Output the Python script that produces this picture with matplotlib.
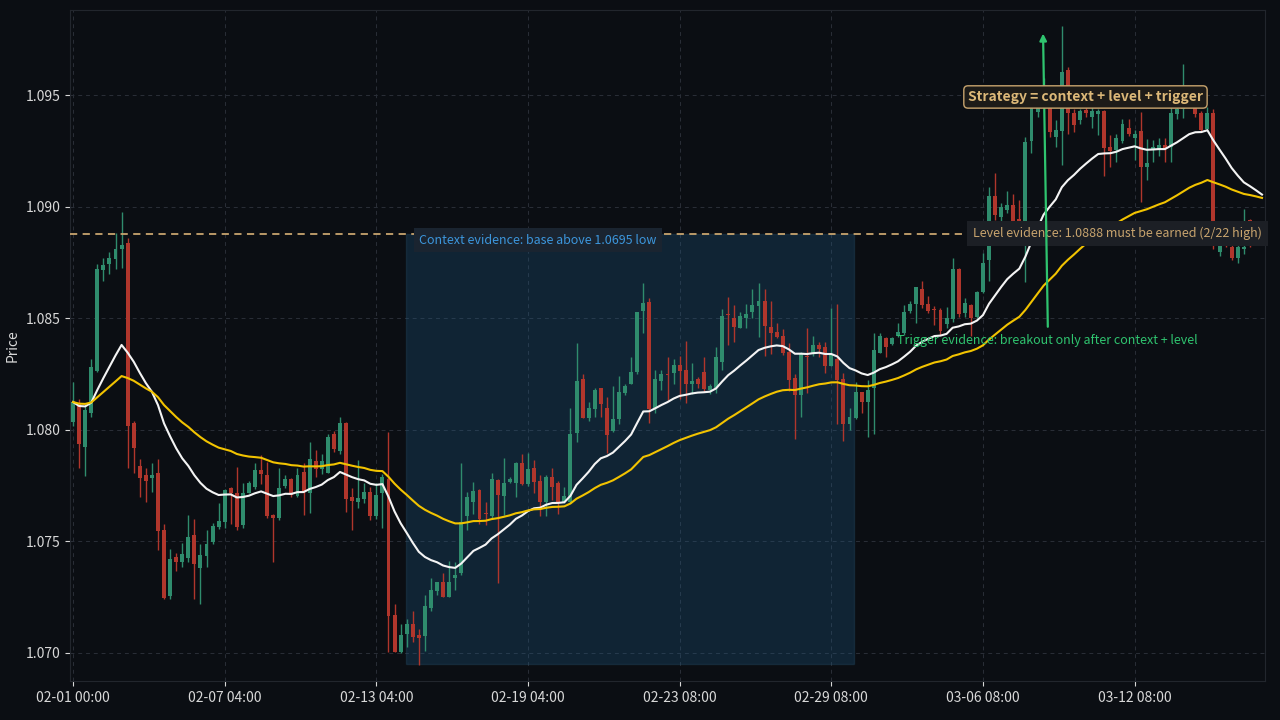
import numpy as np
import pandas as pd
import matplotlib
matplotlib.use("Agg")
import matplotlib.pyplot as plt
from matplotlib.patches import Rectangle

plt.rcParams['font.family'] = ['Noto Sans CJK SC', 'DejaVu Sans']

# OHLC (4h candles)
opens = [
    1.08036, 1.08116, 1.07924, 1.08077, 1.08265, 1.08717, 1.08745, 1.08766, 1.08811, 1.08838,
    1.08031, 1.07838, 1.07797, 1.07785, 1.07805, 1.07551, 1.07256, 1.07428, 1.07409, 1.07427,
    1.07528, 1.07382, 1.07436, 1.07498, 1.07566, 1.07588, 1.07738, 1.07715, 1.07573, 1.07718,
    1.07745, 1.07820, 1.07797, 1.07618, 1.07606, 1.07750, 1.07778, 1.07705, 1.07811, 1.07718,
    1.07860, 1.07824, 1.07808, 1.07983, 1.07906, 1.08029, 1.07697, 1.07678, 1.07691, 1.07720,
    1.07615, 1.07718, 1.07779, 1.07169, 1.07005, 1.07084, 1.07129, 1.07080, 1.07077, 1.07200,
    1.07279, 1.07316, 1.07252, 1.07337, 1.07356, 1.07613, 1.07678, 1.07730, 1.07628, 1.07613,
    1.07775, 1.07705, 1.07767, 1.07763, 1.07850, 1.07757, 1.07827, 1.07772, 1.07678, 1.07790,
    1.07763, 1.07678, 1.07678, 1.07987, 1.08228, 1.08054, 1.08093, 1.08186, 1.08096, 1.07996,
    1.08049, 1.08167, 1.08208, 1.08261, 1.08534, 1.08575, 1.08096, 1.08220, 1.08252, 1.08253,
    1.08291, 1.08268, 1.08205, 1.08228, 1.08258, 1.08178, 1.08186, 1.08305, 1.08519, 1.08500,
    1.08458, 1.08500, 1.08527, 1.08557, 1.08578, 1.08462, 1.08440, 1.08421, 1.08350, 1.08231,
    1.08156, 1.08331, 1.08340, 1.08380, 1.08370, 1.08286, 1.08316, 1.08226, 1.08026, 1.08054,
    1.08168, 1.08126, 1.08186, 1.08346, 1.08410, 1.08385, 1.08421, 1.08436, 1.08534, 1.08563,
    1.08630, 1.08564, 1.08539, 1.08537, 1.08474, 1.08497, 1.08721, 1.08522, 1.08560, 1.08507,
    1.08619, 1.08761, 1.09048, 1.08956, 1.08986, 1.09008, 1.08944, 1.08936, 1.09297, 1.09426,
    1.09500, 1.09479, 1.09312, 1.09341, 1.09616, 1.09419, 1.09389, 1.09434, 1.09404, 1.09416,
    1.09431, 1.09270, 1.09255, 1.09297, 1.09356, 1.09311, 1.09341, 1.09177, 1.09258, 1.09255,
    1.09277, 1.09270, 1.09416, 1.09437, 1.09480, 1.09479, 1.09421, 1.09349, 1.09421, 1.08800,
    1.08870, 1.08819, 1.08769, 1.08809, 1.08940, 1.08860, 1.08900,
]
highs = [
    1.08216, 1.08137, 1.08111, 1.08316, 1.08746, 1.08769, 1.08797, 1.08881, 1.08978, 1.08859,
    1.08040, 1.07868, 1.07827, 1.07850, 1.07868, 1.07578, 1.07468, 1.07446, 1.07491, 1.07618,
    1.07599, 1.07488, 1.07551, 1.07581, 1.07673, 1.07733, 1.07742, 1.07835, 1.07761, 1.07771,
    1.07850, 1.07887, 1.07857, 1.07621, 1.07827, 1.07797, 1.07784, 1.07827, 1.07850, 1.07947,
    1.07909, 1.07890, 1.07981, 1.07996, 1.08056, 1.08036, 1.07738, 1.07865, 1.07763, 1.07742,
    1.07760, 1.07802, 1.07992, 1.07219, 1.07129, 1.07152, 1.07187, 1.07108, 1.07259, 1.07338,
    1.07319, 1.07356, 1.07413, 1.07408, 1.07850, 1.07723, 1.07767, 1.07737, 1.07678, 1.07805,
    1.07778, 1.07872, 1.07790, 1.07857, 1.07891, 1.07897, 1.07867, 1.07797, 1.07797, 1.07827,
    1.07772, 1.07745, 1.08096, 1.08388, 1.08249, 1.08126, 1.08190, 1.08190, 1.08149, 1.08196,
    1.08243, 1.08205, 1.08328, 1.08530, 1.08660, 1.08590, 1.08268, 1.08268, 1.08328, 1.08316,
    1.08331, 1.08398, 1.08298, 1.08238, 1.08325, 1.08208, 1.08370, 1.08540, 1.08597, 1.08560,
    1.08527, 1.08564, 1.08630, 1.08657, 1.08630, 1.08578, 1.08480, 1.08451, 1.08388, 1.08250,
    1.08351, 1.08455, 1.08420, 1.08395, 1.08395, 1.08545, 1.08564, 1.08253, 1.08096, 1.08216,
    1.08171, 1.08223, 1.08436, 1.08433, 1.08418, 1.08418, 1.08480, 1.08560, 1.08576, 1.08639,
    1.08669, 1.08600, 1.08554, 1.08545, 1.08552, 1.08769, 1.08724, 1.08590, 1.08563, 1.08623,
    1.08794, 1.09090, 1.09150, 1.09018, 1.09072, 1.09060, 1.09030, 1.09314, 1.09482, 1.09520,
    1.09580, 1.09486, 1.09389, 1.09810, 1.09628, 1.09437, 1.09441, 1.09471, 1.09452, 1.09441,
    1.09434, 1.09322, 1.09329, 1.09392, 1.09396, 1.09344, 1.09427, 1.09303, 1.09300, 1.09307,
    1.09307, 1.09479, 1.09449, 1.09640, 1.09530, 1.09486, 1.09430, 1.09446, 1.09441, 1.08890,
    1.08900, 1.08840, 1.08840, 1.08990, 1.08945, 1.08920, 1.08930,
]
lows = [
    1.08017, 1.07827, 1.07794, 1.08056, 1.08260, 1.08667, 1.08699, 1.08720, 1.08727, 1.07827,
    1.07805, 1.07697, 1.07678, 1.07720, 1.07461, 1.07240, 1.07240, 1.07368, 1.07386, 1.07409,
    1.07240, 1.07217, 1.07386, 1.07487, 1.07555, 1.07558, 1.07578, 1.07551, 1.07558, 1.07715,
    1.07735, 1.07757, 1.07603, 1.07409, 1.07598, 1.07738, 1.07700, 1.07700, 1.07618, 1.07628,
    1.07787, 1.07802, 1.07805, 1.07902, 1.07891, 1.07633, 1.07551, 1.07648, 1.07670, 1.07598,
    1.07600, 1.07558, 1.07005, 1.07005, 1.07000, 1.07028, 1.07050, 1.06945, 1.07010, 1.07189,
    1.07259, 1.07249, 1.07249, 1.07281, 1.07350, 1.07551, 1.07625, 1.07580, 1.07573, 1.07607,
    1.07314, 1.07618, 1.07762, 1.07700, 1.07753, 1.07748, 1.07718, 1.07613, 1.07615, 1.07685,
    1.07625, 1.07674, 1.07674, 1.07947, 1.08054, 1.08039, 1.08059, 1.08059, 1.07897, 1.07992,
    1.08026, 1.08156, 1.08205, 1.08250, 1.08434, 1.08029, 1.08077, 1.08178, 1.08134, 1.08208,
    1.08137, 1.08119, 1.08163, 1.08186, 1.08171, 1.08163, 1.08166, 1.08268, 1.08380, 1.08395,
    1.08455, 1.08455, 1.08500, 1.08418, 1.08331, 1.08340, 1.08411, 1.08336, 1.08176, 1.07957,
    1.08056, 1.08164, 1.08331, 1.08325, 1.08256, 1.08286, 1.08026, 1.07951, 1.07999, 1.08051,
    1.08077, 1.07969, 1.07981, 1.08343, 1.08328, 1.08380, 1.08418, 1.08424, 1.08522, 1.08480,
    1.08545, 1.08522, 1.08469, 1.08424, 1.08455, 1.08485, 1.08507, 1.08507, 1.08420, 1.08500,
    1.08612, 1.08669, 1.08940, 1.08933, 1.08971, 1.08933, 1.08926, 1.08664, 1.09243, 1.09404,
    1.09450, 1.09312, 1.09270, 1.09188, 1.09329, 1.09337, 1.09374, 1.09404, 1.09356, 1.09322,
    1.09138, 1.09180, 1.09202, 1.09285, 1.09317, 1.09210, 1.09023, 1.09120, 1.09202, 1.09228,
    1.09202, 1.09202, 1.09396, 1.09397, 1.09450, 1.09404, 1.09341, 1.09344, 1.08810, 1.08780,
    1.08820, 1.08760, 1.08748, 1.08790, 1.08820, 1.08840, 1.08850,
]
closes = [
    1.08125, 1.07937, 1.08089, 1.08280, 1.08721, 1.08739, 1.08770, 1.08811, 1.08829, 1.08017,
    1.07920, 1.07785, 1.07772, 1.07797, 1.07548, 1.07247, 1.07421, 1.07409, 1.07443, 1.07518,
    1.07397, 1.07437, 1.07488, 1.07569, 1.07591, 1.07730, 1.07718, 1.07566, 1.07718, 1.07761,
    1.07820, 1.07802, 1.07613, 1.07606, 1.07738, 1.07779, 1.07708, 1.07797, 1.07723, 1.07868,
    1.07824, 1.07860, 1.07969, 1.07914, 1.08029, 1.07688, 1.07679, 1.07694, 1.07720, 1.07615,
    1.07708, 1.07787, 1.07166, 1.07005, 1.07080, 1.07129, 1.07072, 1.07068, 1.07210, 1.07282,
    1.07316, 1.07252, 1.07316, 1.07349, 1.07587, 1.07697, 1.07727, 1.07599, 1.07624, 1.07778,
    1.07706, 1.07760, 1.07780, 1.07850, 1.07757, 1.07824, 1.07767, 1.07678, 1.07790, 1.07745,
    1.07678, 1.07703, 1.07981, 1.08219, 1.08054, 1.08096, 1.08178, 1.08116, 1.07977, 1.08047,
    1.08168, 1.08199, 1.08258, 1.08527, 1.08567, 1.08092, 1.08228, 1.08249, 1.08248, 1.08291,
    1.08265, 1.08205, 1.08220, 1.08205, 1.08183, 1.08196, 1.08325, 1.08510, 1.08516, 1.08462,
    1.08510, 1.08519, 1.08560, 1.08578, 1.08465, 1.08436, 1.08418, 1.08346, 1.08223, 1.08156,
    1.08343, 1.08327, 1.08380, 1.08365, 1.08286, 1.08340, 1.08223, 1.08026, 1.08056, 1.08168,
    1.08126, 1.08178, 1.08358, 1.08421, 1.08370, 1.08410, 1.08437, 1.08527, 1.08563, 1.08639,
    1.08560, 1.08534, 1.08536, 1.08443, 1.08503, 1.08721, 1.08519, 1.08567, 1.08503, 1.08619,
    1.08749, 1.09048, 1.08963, 1.08998, 1.09008, 1.08936, 1.08936, 1.09292, 1.09471, 1.09500,
    1.09530, 1.09337, 1.09347, 1.09606, 1.09419, 1.09367, 1.09431, 1.09419, 1.09431, 1.09431,
    1.09265, 1.09249, 1.09311, 1.09371, 1.09326, 1.09329, 1.09177, 1.09195, 1.09270, 1.09277,
    1.09258, 1.09419, 1.09437, 1.09479, 1.09500, 1.09416, 1.09344, 1.09421, 1.08860, 1.08870,
    1.08840, 1.08769, 1.08820, 1.08821, 1.08930, 1.08900, 1.08870,
]

tick_pos = [0, 25, 50, 75, 100, 125, 150, 175]
tick_labels = ['02-01 00:00', '02-07 04:00', '02-13 04:00', '02-19 04:00',
               '02-23 08:00', '02-29 08:00', '03-06 08:00', '03-12 08:00']

level = 1.0888
base_low = 1.0695
context_start, context_end = 54.9, 128.7

# colours
bg = '#0b0e13'
up_col = '#2f8c6d'
down_col = '#b0362c'
gold = '#c8a46e'

df = pd.DataFrame({'open': opens, 'high': highs, 'low': lows, 'close': closes})
n = len(df)
x = np.arange(n)
ema_fast = df['close'].ewm(span=20, adjust=False).mean()
ema_slow = df['close'].ewm(span=50, adjust=False).mean()

fig = plt.figure(figsize=(12.8, 7.2), dpi=100, facecolor=bg)
ax = fig.add_axes([0.0547, 0.0542, 0.9336, 0.9319])
ax.set_facecolor(bg)

# context zone
ax.add_patch(Rectangle((context_start, base_low), context_end - context_start, level - base_low,
                       facecolor='#1f5f8b', alpha=0.28, edgecolor='#2a5878', lw=1, zorder=1))

# candles
up = df['close'] >= df['open']
colors = np.where(up, up_col, down_col)
body_low = np.minimum(df['open'], df['close'])
body_h = np.maximum((df['close'] - df['open']).abs(), 0.00004)
ax.vlines(x, df['low'], df['high'], colors=colors, lw=1, zorder=2)
ax.bar(x, body_h, bottom=body_low, width=0.65, color=colors, zorder=3)

# moving averages
ax.plot(x, ema_fast, color='#f4f4f4', lw=1.5, zorder=4)
ax.plot(x, ema_slow, color='#f2c300', lw=1.5, zorder=4)

# level line
ax.axhline(level, color=gold, ls=(0, (4, 3)), lw=1.3, zorder=3)

# annotations
ax.text(57.1, 1.08851, 'Context evidence: base above 1.0695 low', color='#3c96dc', fontsize=9,
        ha='left', va='center', zorder=6,
        bbox=dict(boxstyle='square,pad=0.45', fc='#1a2430', ec='none'))
ax.text(196, level, 'Level evidence: 1.0888 must be earned (2/22 high)', color=gold, fontsize=9,
        ha='right', va='center', zorder=6, clip_on=False,
        bbox=dict(boxstyle='square,pad=0.45', fc='#1c1f25', ec='none'))
ax.text(135.9, 1.08403, 'Trigger evidence: breakout only after context + level', color='#2fc46f',
        fontsize=9, ha='left', va='center', zorder=6)
ax.annotate('', xy=(159.9, 1.0979), xytext=(160.7, 1.0845),
            arrowprops=dict(arrowstyle='-|>', color='#2fc46f', lw=1.6, mutation_scale=10), zorder=6)
ax.text(166.9, 1.09493, 'Strategy = context + level + trigger', color='#dcb878', fontsize=10,
        fontweight='bold', ha='center', va='center', zorder=7,
        bbox=dict(boxstyle='round,pad=0.3', fc='#1d1b18', ec=gold, lw=1))

# axes styling
ax.set_xlim(-0.5, n - 0.5)
ax.set_ylim(1.06874, 1.09883)
ax.set_xticks(tick_pos)
ax.set_xticklabels(tick_labels)
ax.set_yticks(np.arange(1.070, 1.0951, 0.005))
ax.yaxis.set_major_formatter(plt.FormatStrFormatter('%.3f'))
ax.tick_params(colors='#d8d8d8', labelsize=10)
ax.set_ylabel('Price', color='#d8d8d8', fontsize=10)
ax.grid(True, color='#2a2f38', ls=(0, (4, 4)), lw=0.7)
ax.set_axisbelow(True)
for s in ax.spines.values():
    s.set_color('#22262d')

fig.savefig('out.png', dpi=100, facecolor=bg)
